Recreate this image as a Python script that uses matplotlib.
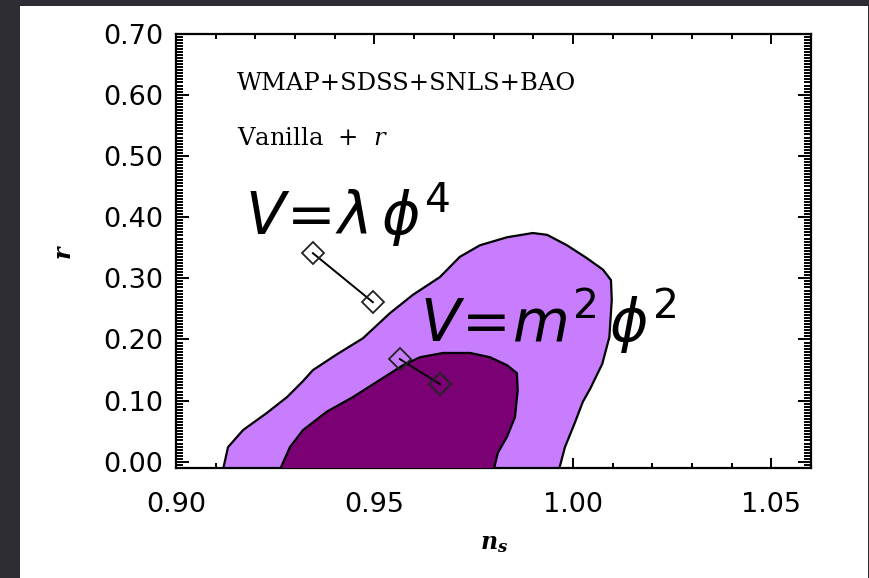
import matplotlib
matplotlib.use("Agg")
import matplotlib.pyplot as plt
from matplotlib.patches import Rectangle
from matplotlib.ticker import MultipleLocator, FormatStrFormatter

plt.rcParams['font.family'] = ['DejaVu Sans']
plt.rcParams['mathtext.fontset'] = 'custom'
plt.rcParams['mathtext.rm'] = 'DejaVu Sans'
plt.rcParams['mathtext.it'] = 'DejaVu Sans:italic'
plt.rcParams['mathtext.bf'] = 'DejaVu Serif:bold:italic'
plt.rcParams['mathtext.sf'] = 'DejaVu Serif:italic'

# 95% contour (outer) in (n_s, r)
outer_ns = [0.9116, 0.9131, 0.9169, 0.9229, 0.9280, 0.9320, 0.9345, 0.9406, 0.9471,
            0.9539, 0.9597, 0.9665, 0.9715, 0.9766, 0.9834, 0.9899, 0.9935, 0.9985,
            1.0035, 1.0076, 1.0096, 1.0098, 1.0092, 1.0074, 1.0044, 1.0025, 1.0005,
            0.9980, 0.9962]
outer_r = [-0.02, 0.024, 0.052, 0.080, 0.106, 0.132, 0.150, 0.176, 0.202,
           0.243, 0.273, 0.302, 0.335, 0.354, 0.367, 0.374, 0.371, 0.354,
           0.333, 0.314, 0.297, 0.265, 0.204, 0.160, 0.120, 0.098, 0.064,
           0.024, -0.02]

# 68% contour (inner)
inner_ns = [0.9257, 0.9287, 0.9320, 0.9380, 0.9446, 0.9514, 0.9572, 0.9615, 0.9673,
            0.9741, 0.9791, 0.9834, 0.9859, 0.9861, 0.9854, 0.9834, 0.9811, 0.9798]
inner_r = [-0.02, 0.024, 0.052, 0.082, 0.106, 0.134, 0.158, 0.171, 0.178,
           0.178, 0.171, 0.158, 0.145, 0.117, 0.073, 0.041, 0.015, -0.02]

# model predictions
phi4_ns = [0.9345, 0.9496]
phi4_r = [0.341, 0.261]
m2phi2_ns = [0.9564, 0.9665]
m2phi2_r = [0.168, 0.127]

xticks = [0.90, 0.95, 1.00, 1.05]
yticks = [0.00, 0.10, 0.20, 0.30, 0.40, 0.50, 0.60, 0.70]

W, H = 870, 578
fig = plt.figure(figsize=(W / 100, H / 100), dpi=100)
fig.patch.set_facecolor('#2d2c32')
fig.add_artist(Rectangle((20 / W, 0), 848 / W, 572 / H, transform=fig.transFigure,
                         facecolor='white', edgecolor='none', zorder=0))

ax = fig.add_axes([176 / W, 110 / H, 635 / W, 434.5 / H])
ax.set_facecolor('white')
ax.fill(outer_ns, outer_r, facecolor='#C87DFF', edgecolor='black', lw=1.6, zorder=2)
ax.fill(inner_ns, inner_r, facecolor='#7A0073', edgecolor='black', lw=1.6, zorder=3)

for xs, ys in [(phi4_ns, phi4_r), (m2phi2_ns, m2phi2_r)]:
    ax.plot(xs, ys, '-', color='black', lw=1.4, marker='D', ms=11,
            mfc='none', mec='#222222', mew=1.3, zorder=4)

ax.set_xlim(0.90, 1.06)
ax.set_ylim(-0.01, 0.70)
ax.set_xticks(xticks)
ax.set_yticks(yticks)
ax.xaxis.set_minor_locator(MultipleLocator(0.01))
ax.yaxis.set_minor_locator(MultipleLocator(0.005))
ax.xaxis.set_major_formatter(FormatStrFormatter('%.2f'))
ax.yaxis.set_major_formatter(FormatStrFormatter('%.2f'))
ax.tick_params(axis='both', which='both', direction='in', top=True, right=True,
               colors='black', labelsize=19.5, width=1.4)
ax.tick_params(axis='x', which='major', length=7.2, pad=17)
ax.tick_params(axis='x', which='minor', length=3.6)
ax.tick_params(axis='y', which='major', length=9.4, pad=9)
ax.tick_params(axis='y', which='minor', length=5)
for s in ax.spines.values():
    s.set_linewidth(1.6)

ax.text(0.9153, 0.607, 'WMAP+SDSS+SNLS+BAO', family='DejaVu Serif', fontsize=17.5,
        color='black', ha='left', va='baseline')
ax.text(0.9153, 0.517, r'Vanilla  +  $\mathsf{r}$', family='DejaVu Serif', fontsize=17.5,
        color='black', ha='left', va='baseline')

ax.text(0.9174, 0.371, r'$V\!=\!\lambda\,\phi^4$', fontsize=42, color='black',
        ha='left', va='baseline', zorder=5)
ax.text(0.9615, 0.196, r'$V\!=\!m^2\,\phi^2$', fontsize=42, color='black',
        ha='left', va='baseline', zorder=5)

fig.text(64 / W, 1 - 252 / H, r'$\mathbf{r}$', fontsize=17, rotation=90,
         ha='center', va='center', color='black')
fig.text(494 / W, 1 - 543 / H, r'$\mathbf{n_s}$', fontsize=17,
         ha='center', va='center', color='black')

fig.savefig('out.png', dpi=100, facecolor=fig.get_facecolor())
